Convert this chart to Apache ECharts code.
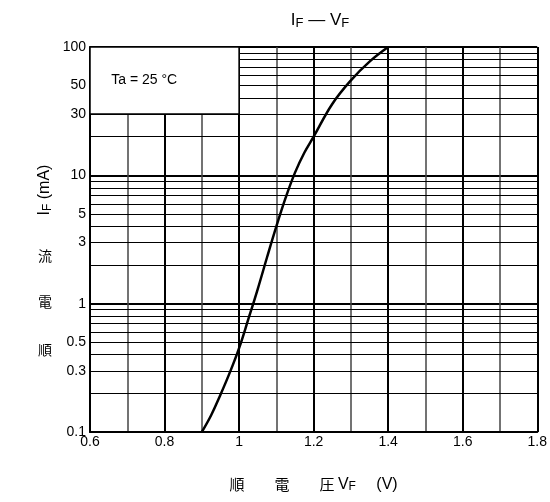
<!DOCTYPE html>
<html><head><meta charset="utf-8">
<script src="https://cdn.jsdelivr.net/npm/echarts@6/dist/echarts.min.js"></script>
<style>html,body{margin:0;padding:0;background:#fff}#c{width:550px;height:502px}</style>
</head><body><div id="c"></div>
<script>
const vf = [0.90, 0.925, 0.95, 0.975, 1.00, 1.025, 1.05, 1.075, 1.10, 1.125, 1.15, 1.175, 1.20, 1.25, 1.30, 1.35, 1.40];
const ifm = [0.1, 0.135, 0.195, 0.29, 0.45, 0.76, 1.3, 2.3, 4, 6.7, 10.5, 15, 20, 36, 55, 77, 100];
const yLabelValues = [0.1, 0.3, 0.5, 1, 3, 5, 10, 30, 50, 100];
const minorY = [0.2,0.3,0.4,0.5,0.6,0.7,0.8,0.9, 2,3,4,5,6,7,8,9, 20,30,40,50,60,70,80,90];
const boxX = [0.6, 1.0];
const boxY = [30, 100];
const boxText = 'Ta = 25 °C';

const FONT = '"Liberation Sans", Arial, sans-serif';
const CJK = '"Noto Sans CJK JP", sans-serif';

const chart = echarts.init(document.getElementById('c'));
chart.setOption({
  animation: false,
  backgroundColor: '#fff',
  title: {
    text: '{a|I}{s|F}{a| — V}{s|F}',
    left: 315, top: 6, textAlign: 'center',
    textStyle: { fontWeight: 'normal', rich: {
      a: { fontFamily: FONT, fontSize: 17, fontWeight: 'normal', color: '#000' },
      s: { fontFamily: FONT, fontSize: 13, fontWeight: 'normal', color: '#000', padding: [6,0,0,0] }
    }}
  },
  grid: { left: 90, right: 10, top: 47, bottom: 70 },
  xAxis: [{
    type: 'value', min: 0.6, max: 1.8, interval: 0.2,
    axisLine: { show: true, onZero: false, lineStyle: { color: '#000', width: 2 } },
    axisTick: { show: false },
    axisLabel: { color: '#000', fontFamily: FONT, fontSize: 14, margin: 3 },
    splitLine: { show: true, lineStyle: { color: '#000', width: 2 } },
    name: '{c|順　　電　　圧 }{a|V}{s|F}{a|　 (V)}',
    nameLocation: 'middle', nameGap: 44,
    nameTextStyle: { rich: {
      c: { fontFamily: CJK, fontSize: 15, color: '#000' },
      a: { fontFamily: FONT, fontSize: 16, color: '#000' },
      s: { fontFamily: FONT, fontSize: 12, color: '#000', padding: [5,0,0,0] }
    }},
    z: 1
  }, {
    type: 'value', min: 0.6, max: 1.8, interval: 0.1, position: 'bottom',
    axisLine: { show: false }, axisTick: { show: false }, axisLabel: { show: false },
    splitLine: { show: true, lineStyle: { color: '#444', width: 1.5 } },
    z: 0
  }],
  yAxis: {
    type: 'log', logBase: 10, min: 0.1, max: 100,
    axisLine: { show: true, lineStyle: { color: '#000', width: 2 } },
    axisTick: { show: false },
    axisLabel: { color: '#000', fontFamily: FONT, fontSize: 14, margin: 4, customValues: yLabelValues,
      formatter: v => String(v) },
    splitLine: { show: true, lineStyle: { color: '#000', width: 2 } },
    minorTick: { show: false }, minorSplitLine: { show: false }
  },
  graphic: [
    { type: 'text', x: 45, y: 190, rotation: Math.PI/2,
      style: { text: '{a|I}{s|F}{a| (mA)}', align: 'center', verticalAlign: 'middle',
        rich: { a: { fontFamily: FONT, fontSize: 16, fill: '#000' }, s: { fontFamily: FONT, fontSize: 12, fill: '#000', padding: [5,0,0,0] } } } },
    { type: 'text', x: 45, y: 256, style: { text: '流', font: '14px ' + CJK, fill: '#000', align: 'center', verticalAlign: 'middle' } },
    { type: 'text', x: 45, y: 302, style: { text: '電', font: '14px ' + CJK, fill: '#000', align: 'center', verticalAlign: 'middle' } },
    { type: 'text', x: 45, y: 350, style: { text: '順', font: '14px ' + CJK, fill: '#000', align: 'center', verticalAlign: 'middle' } }
  ],
  series: [{
    type: 'line', data: [], z: 3, silent: true,
    markLine: { silent: true, symbol: 'none', label: { show: false }, animation: false, z: 3,
      lineStyle: { color: '#000', width: 1, type: 'solid' },
      data: minorY.map(v => ({ yAxis: v })) }
  }, {
    type: 'line', data: [], z: 8, silent: true,
    markArea: { silent: true, z: 8,
      itemStyle: { color: '#fff', borderColor: '#000', borderWidth: 1.5, opacity: 1 },
      label: { show: true, position: 'insideLeft', distance: 22, color: '#000', fontFamily: FONT, fontSize: 14 },
      data: [[{ xAxis: boxX[0], yAxis: boxY[0], name: boxText }, { xAxis: boxX[1], yAxis: boxY[1] }]] }
  }, {
    type: 'line', smooth: 0.4, symbol: 'none', z: 10,
    lineStyle: { color: '#000', width: 2.5 },
    data: vf.map((x, i) => [x, ifm[i]])
  }]
});
</script></body></html>
